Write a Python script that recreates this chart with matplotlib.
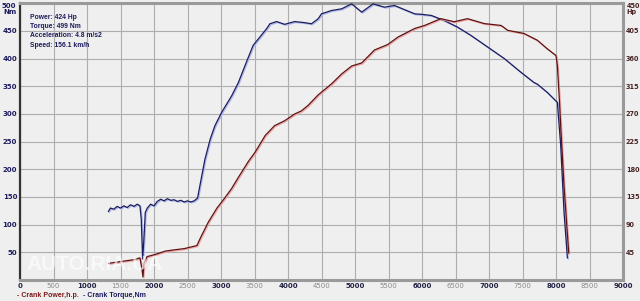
import matplotlib.pyplot as plt
import matplotlib.patheffects as pe

# crank torque, Nm
torque_rpm = [1320, 1350, 1400, 1450, 1500, 1550, 1600, 1650, 1700, 1750, 1790, 1810, 1830,
              1850, 1870, 1900, 1950, 2000, 2050, 2100, 2150, 2200, 2250, 2300, 2350, 2400,
              2450, 2500, 2550, 2600, 2650, 2700, 2760, 2840, 2910, 3010, 3160, 3260, 3380,
              3480, 3560, 3680, 3730, 3830, 3950, 4100, 4250, 4350, 4450, 4500, 4650, 4800,
              4950, 5100, 5270, 5440, 5590, 5750, 5890, 6000, 6140, 6330, 6530, 6730, 6980,
              7230, 7470, 7670, 7720, 7870, 7970, 8020, 8070, 8120, 8170]
torque_nm = [124, 130, 128, 133, 130, 134, 131, 136, 133, 137, 134, 110, 38,
             75, 122, 130, 137, 134, 142, 146, 143, 147, 144, 145, 142, 144,
             141, 143, 141, 143, 148, 180, 218, 255, 279, 303, 333, 357, 394,
             424, 436, 454, 463, 467, 462, 467, 465, 463, 472, 481, 487, 490,
             499, 484, 499, 493, 496, 488, 481, 480, 478, 469, 457, 442, 421,
             400, 376, 357, 354, 339, 327, 321, 243, 122, 40]

# crank power, h.p.
power_rpm = [1320, 1500, 1700, 1790, 1820, 1835, 1850, 1895, 2000, 2170, 2300, 2450, 2640,
             2700, 2810, 2940, 3040, 3160, 3260, 3410, 3510, 3660, 3800, 3950, 4100, 4200,
             4300, 4450, 4650, 4800, 4950, 5100, 5290, 5490, 5640, 5890, 6040, 6280, 6480,
             6680, 6930, 7180, 7280, 7520, 7720, 7870, 8000, 8020, 8050, 8080, 8120, 8160, 8190]
power_hp = [27, 30, 33, 36, 18, 5, 27, 38, 41, 47, 49, 51, 56,
            70, 94, 117, 131, 149, 167, 193, 208, 235, 251, 259, 270, 275,
            284, 301, 319, 335, 348, 353, 374, 383, 395, 409, 414, 425, 420,
            425, 417, 414, 406, 401, 390, 376, 365, 349, 294, 230, 153, 90, 44]

info = ["Power: 424 Hp", "Torque: 499 Nm", "Acceleration: 4.8 m/s2", "Speed: 156.1 km/h"]

bg = "#efefef"
navy = "#1c1c5e"
maroon = "#5c1212"

fig = plt.figure(figsize=(6.4, 3.01), dpi=100, facecolor=bg)
ax = fig.add_axes([20/640, 1-280/301, 603/640, 276.7/301])
ax.set_facecolor(bg)
ax.set_xlim(0, 9000)
ax.set_ylim(0, 500)
ax.set_xticks(range(0, 9001, 500))
ax.set_yticks(range(0, 501, 50))
ax.grid(True, color="#adadad", lw=0.8)
ax.set_axisbelow(True)
ax.tick_params(length=0, labelsize=5.0, pad=2)
ax.set_yticklabels([""] + [str(v) for v in range(50, 451, 50)] + [""],
                   fontweight="bold", color=navy)
xl = ax.set_xticklabels([str(v) for v in range(0, 9001, 500)])
for i, t in enumerate(xl):
    if i % 2:
        t.set_color("#8a8a8a")
    else:
        t.set_color("#222244")
        t.set_fontweight("bold")
ax.text(-0.006, 1.0, "500\nNm", transform=ax.transAxes, ha="right", va="top",
        fontsize=5.0, fontweight="bold", color=navy, linespacing=0.9)

for s in ["top", "right", "bottom"]:
    ax.spines[s].set_color("#9a9a9a")
    ax.spines[s].set_linewidth(2.2)
ax.spines["left"].set_color("#333333")
ax.spines["left"].set_linewidth(1.6)

ax2 = ax.twinx()
ax2.set_ylim(0, 450)
ax2.set_yticks(range(45, 406, 45))
ax2.set_yticklabels([str(v) for v in range(45, 406, 45)], fontsize=4.7,
                    fontweight="bold", color="#4a2424")
ax2.tick_params(length=0, pad=2)
for s in ax2.spines.values():
    s.set_visible(False)
ax2.text(1.006, 1.0, "450\nHp", transform=ax.transAxes, ha="left", va="top",
         fontsize=4.7, fontweight="bold", color="#4a2424", linespacing=0.9)

ax.plot(torque_rpm, torque_nm, color=navy, lw=0.9, zorder=3,
        path_effects=[pe.SimpleLineShadow(offset=(0.7, -0.7), shadow_color="#a9b6ea", alpha=1),
                      pe.Normal()])
ax2.plot(power_rpm, power_hp, color=maroon, lw=0.9, zorder=3,
         path_effects=[pe.SimpleLineShadow(offset=(0.7, -0.7), shadow_color="#f0a4a4", alpha=1),
                       pe.Normal()])

for i, line in enumerate(info):
    ax.text(10/603, 1 - (14 + 9.3*i)/276.7, line, transform=ax.transAxes,
            fontsize=4.9, fontweight="bold", color=navy, family="Liberation Sans", va="center")

fig.text(26/640, 1-264/301, "AUTO.RIA.UA", fontsize=15, fontweight="bold",
         color="white", alpha=0.6, va="center", family="Liberation Sans")

fig.text(17/640, 1-295.5/301, "- Crank Power,h.p.", fontsize=5, fontweight="bold",
         color="#7a1a1a", va="center", family="Liberation Sans")
fig.text(83/640, 1-295.5/301, "- Crank Torque,Nm", fontsize=5, fontweight="bold",
         color=navy, va="center", family="Liberation Sans")

plt.savefig("out.png", dpi=100, facecolor=bg)
